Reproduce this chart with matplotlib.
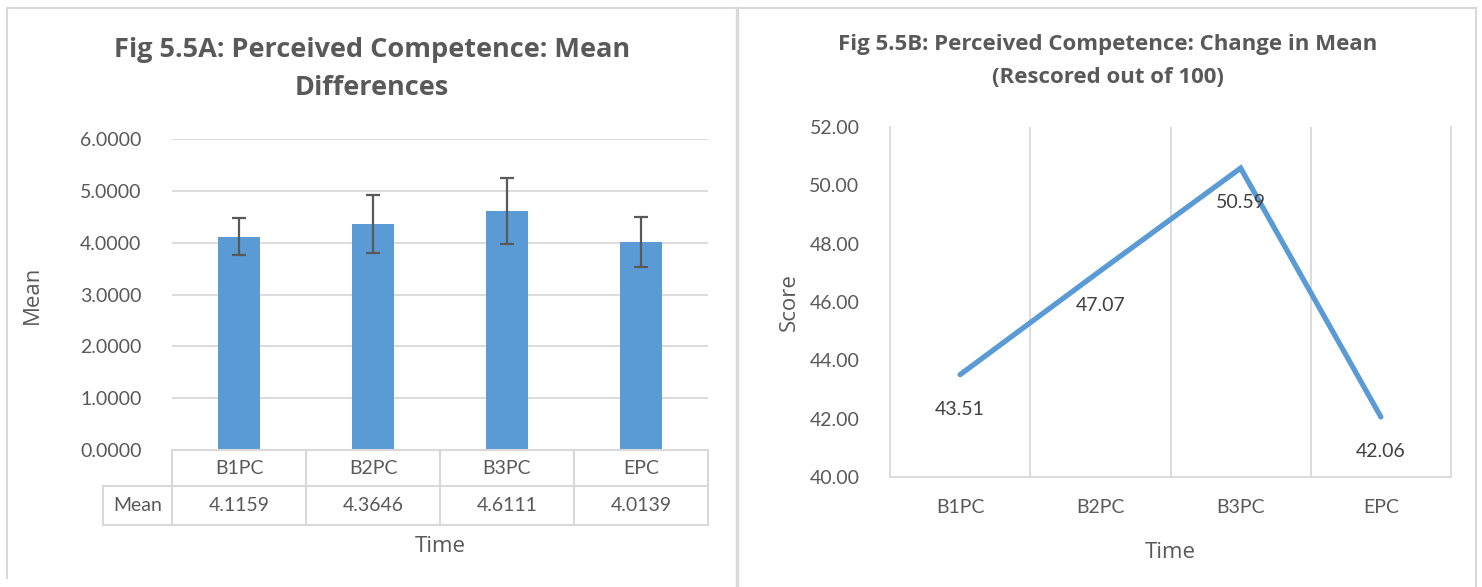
import matplotlib
matplotlib.use("Agg")
import matplotlib.pyplot as plt
from matplotlib.lines import Line2D

categories = ["B1PC", "B2PC", "B3PC", "EPC"]
means = [4.1159, 4.3646, 4.6111, 4.0139]
errors = [0.36, 0.56, 0.63, 0.49]
scores = [43.51, 47.07, 50.59, 42.06]

W, H = 1482, 587
blue = "#5b9bd5"
grid = "#d9d9d9"
txt = "#595959"
plt.rcParams["font.family"] = ["Lato", "DejaVu Sans"]

fig = plt.figure(figsize=(W / 100, H / 100), dpi=100)


def px(x0, y0, x1, y1):
    # pixel box (top-left origin) -> figure fraction
    return [x0 / W, 1 - y1 / H, (x1 - x0) / W, (y1 - y0) / H]


def fline(xp, yp, lw=1.5):
    fig.add_artist(Line2D([x / W for x in xp], [1 - y / H for y in yp],
                          transform=fig.transFigure, color=grid, lw=lw))


# outer frame and separator
fline([7, 1476], [8, 8])
fline([7, 7], [8, 578])
fline([1476, 1476], [8, 587])
fline([737, 737], [8, 587], lw=2.5)

# ---- left: bar chart with data table
ax = fig.add_axes(px(172, 139, 708, 450))
xs = [i + 0.5 for i in range(len(categories))]
ax.bar(xs, means, width=0.31, color=blue, zorder=2)
ax.errorbar(xs, means, yerr=errors, fmt="none", ecolor="#595959", elinewidth=1.6,
            capsize=5, capthick=1.6, zorder=3)
ax.set_xlim(0, 4)
ax.set_ylim(0, 6)
ax.set_yticks(range(7))
ax.set_yticklabels(["%.4f" % v for v in range(7)])
ax.set_xticks([])
ax.grid(axis="y", color=grid, lw=1.3, zorder=0)
for s in ax.spines.values():
    s.set_visible(False)
ax.tick_params(axis="y", length=0, pad=22, labelsize=14, labelcolor=txt)
ax.set_ylabel("Mean", fontsize=16, color=txt, family=["Open Sans"])
ax.yaxis.set_label_coords(-0.24, 0.5)

# table under the axis
ah = 311.0
r1 = -36 / ah
r2 = -75 / ah
hx = (103 - 172) / 536.0
kw = dict(transform=ax.transAxes, color=grid, lw=1.5, clip_on=False)
for y, x0 in [(0, 0), (r1, hx), (r2, hx)]:
    ax.add_line(Line2D([x0, 1], [y, y], **kw))
for i in range(len(categories) + 1):
    ax.add_line(Line2D([i / 4, i / 4], [0, r2], **kw))
ax.add_line(Line2D([hx, hx], [r1, r2], **kw))
for i, (c, m) in enumerate(zip(categories, means)):
    ax.text((i + 0.5) / 4, r1 / 2, c, transform=ax.transAxes, ha="center", va="center",
            fontsize=14, color=txt)
    ax.text((i + 0.5) / 4, (r1 + r2) / 2, "%.4f" % m, transform=ax.transAxes,
            ha="center", va="center", fontsize=14, color=txt)
ax.text(hx / 2, (r1 + r2) / 2, "Mean", transform=ax.transAxes, ha="center", va="center",
        fontsize=14, color=txt)
ax.text(0.5, -97 / ah, "Time", transform=ax.transAxes, ha="center", va="center",
        fontsize=16, color=txt, family=["Open Sans"])

fig.text(372 / W, 1 - 69 / H, "Fig 5.5A: Perceived Competence: Mean\nDifferences",
         ha="center", va="center", fontsize=19.5, fontweight="bold", color=txt,
         family=["Open Sans"], linespacing=1.6)

# ---- right: line chart
ax2 = fig.add_axes(px(890, 127, 1451, 477))
ax2.plot(xs, scores, color=blue, lw=3.8, solid_capstyle="round", solid_joinstyle="miter")
for x, v in zip(xs, scores):
    ax2.annotate("%.2f" % v, (x, v), xytext=(0, -25), textcoords="offset points",
                 ha="center", va="center", fontsize=14, color="#404040")
ax2.set_xlim(0, 4)
ax2.set_ylim(40, 52)
ax2.set_yticks(range(40, 53, 2))
ax2.set_yticklabels(["%.2f" % v for v in range(40, 53, 2)])
ax2.set_xticks(xs)
ax2.set_xticklabels(categories)
for v in range(1, 4):
    ax2.axvline(v, color=grid, lw=1.3, zorder=0)
ax2.spines["top"].set_visible(False)
for s in ["left", "right", "bottom"]:
    ax2.spines[s].set_color(grid)
    ax2.spines[s].set_linewidth(1.3)
ax2.tick_params(axis="y", length=0, pad=22, labelsize=14, labelcolor=txt)
ax2.tick_params(axis="x", length=0, pad=16, labelsize=14, labelcolor=txt)
ax2.set_ylabel("Score", fontsize=16, color=txt, family=["Open Sans"])
ax2.yaxis.set_label_coords(-0.16, 0.5)
ax2.set_xlabel("Time", fontsize=16, color=txt, family=["Open Sans"])
ax2.xaxis.set_label_coords(0.5, -0.185)

fig.text(1108 / W, 1 - 61 / H, "Fig 5.5B: Perceived Competence: Change in Mean\n(Rescored out of 100)",
         ha="center", va="center", fontsize=16, fontweight="bold", color=txt,
         family=["Open Sans"], linespacing=1.7)

fig.savefig("out.png", dpi=100, facecolor="white")
